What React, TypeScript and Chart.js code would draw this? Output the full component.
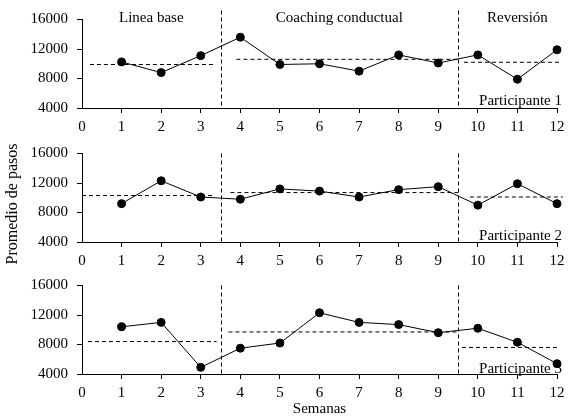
import { useEffect, useRef } from "react";
import Chart from "chart.js/auto";

const weeks = [1, 2, 3, 4, 5, 6, 7, 8, 9, 10, 11, 12];

const participant1 = [10250, 8800, 11100, 13600, 9900, 10000, 9000, 11200, 10100, 11200, 7900, 11900];
const participant2 = [9200, 12300, 10100, 9800, 11200, 10900, 10100, 11100, 11500, 9000, 11900, 9200];
const participant3 = [10400, 11000, 4900, 7500, 8200, 12300, 11000, 10700, 9600, 10200, 8300, 5400];

// phase means (baseline, coaching, reversal) and the week span each dashed line covers
const means1 = [9900, 10600, 10200];
const means2 = [10300, 10700, 10100];
const means3 = [8400, 9700, 7600];
const meanFrom1 = [0.2, 3.9, 9.65];
const meanTo1 = [3.35, 9.5, 12.1];
const meanFrom2 = [0, 3.75, 9.8];
const meanTo2 = [3.35, 9.5, 12.15];
const meanFrom3 = [0.15, 3.7, 9.6];
const meanTo3 = [3.4, 9.5, 12.0];

const phaseBreaks = [3.5, 9.5];
const phaseNames = ["Linea base", "Coaching conductual", "Reversión"];
const phaseNameAt = [1.75, 6.5, 11];

const yTicks = [4000, 8000, 12000, 16000];
const xTicks = [0, 12];

const FONT = "'Liberation Serif', 'Times New Roman', serif";

interface PanelProps {
  values: number[];
  means: number[];
  from: number[];
  to: number[];
  label: string;
  top: number;
  height: number;
  padBottom: number;
  lift: number;
  ext: number;
  phaseTitles?: boolean;
  yTitle?: boolean;
  xTitle?: boolean;
}

function Panel(props: PanelProps) {
  const canvasRef = useRef<HTMLCanvasElement>(null);
  const chartRef = useRef<Chart | null>(null);

  useEffect(() => {
    if (!canvasRef.current) return;
    if (chartRef.current) chartRef.current.destroy();

    const overlay = {
      id: "overlay",
      beforeDatasetsDraw(chart: any) {
        const { ctx, chartArea, scales } = chart;
        ctx.save();
        ctx.strokeStyle = "#000";
        ctx.lineWidth = 1;
        ctx.setLineDash([4, 3]);
        phaseBreaks.forEach((b) => {
          const x = Math.round(scales.x.getPixelForValue(b)) + 0.5;
          ctx.beginPath();
          ctx.moveTo(x, chartArea.top - props.ext);
          ctx.lineTo(x, chartArea.bottom);
          ctx.stroke();
        });
        ctx.restore();
      },
      afterDraw(chart: any) {
        const { ctx, chartArea, scales } = chart;
        ctx.save();
        ctx.fillStyle = "#000";
        ctx.font = `15px ${FONT}`;
        ctx.textBaseline = "alphabetic";
        ctx.textAlign = "right";
        ctx.fillText(props.label, chartArea.right + 5, chartArea.bottom - props.lift);
        if (props.phaseTitles) {
          ctx.textAlign = "center";
          phaseNames.forEach((n, i) => {
            ctx.fillText(n, scales.x.getPixelForValue(phaseNameAt[i]), 22);
          });
        }
        if (props.xTitle) {
          ctx.textAlign = "center";
          ctx.textBaseline = "middle";
          ctx.fillText("Semanas", (chartArea.left + chartArea.right) / 2, 143);
        }
        if (props.yTitle) {
          ctx.translate(13, 70);
          ctx.rotate(-Math.PI / 2);
          ctx.textAlign = "center";
          ctx.textBaseline = "middle";
          ctx.font = `16px ${FONT}`;
          ctx.fillText("Promedio de pasos", 0, 0);
        }
        ctx.restore();
      },
    };

    const meanSets = props.means.map((m, i) => ({
      data: [
        { x: props.from[i], y: m },
        { x: props.to[i], y: m },
      ],
      borderColor: "#000",
      borderWidth: 1,
      borderDash: [4, 3],
      pointRadius: 0,
      clip: false as const,
    }));

    chartRef.current = new Chart(canvasRef.current, {
      type: "line",
      data: {
        datasets: [
          ...meanSets,
          {
            data: weeks.map((w, i) => ({ x: w, y: props.values[i] })),
            borderColor: "#000",
            borderWidth: 1,
            backgroundColor: "#000",
            pointBackgroundColor: "#000",
            pointBorderColor: "#000",
            pointRadius: 4,
            clip: false as const,
          },
        ],
      },
      options: {
        animation: false,
        responsive: true,
        maintainAspectRatio: false,
        layout: { padding: { top: 19.5, right: 22, bottom: props.padBottom, left: 0 } },
        plugins: { legend: { display: false }, tooltip: { enabled: false } },
        scales: {
          x: {
            type: "linear",
            min: xTicks[0],
            max: xTicks[1],
            afterFit: (s: any) => {
              s.height = 28;
            },
            ticks: {
              stepSize: 1,
              autoSkip: false,
              maxRotation: 0,
              padding: 5,
              color: "#000",
              font: { family: FONT, size: 15 },
              callback: (v: any) => String(v),
            },
            grid: {
              drawOnChartArea: false,
              drawTicks: true,
              tickLength: 5,
              tickColor: (c: any) => (c.tick && c.tick.value === 0 ? "rgba(0,0,0,0)" : "#000"),
            },
            border: { display: true, color: "#000", width: 1 },
          },
          y: {
            type: "linear",
            min: yTicks[0],
            max: yTicks[yTicks.length - 1],
            afterFit: (s: any) => {
              s.width = 82;
            },
            afterBuildTicks: (s: any) => {
              s.ticks = yTicks.map((v) => ({ value: v }));
            },
            ticks: {
              padding: 9,
              color: "#000",
              font: { family: FONT, size: 15 },
              callback: (v: any) => String(v),
            },
            grid: {
              drawOnChartArea: false,
              drawTicks: true,
              tickLength: 5,
              tickColor: "#000",
            },
            border: { display: true, color: "#000", width: 1 },
          },
        },
      },
      plugins: [overlay],
    });

    return () => {
      if (chartRef.current) {
        chartRef.current.destroy();
        chartRef.current = null;
      }
    };
  }, [props]);

  return (
    <div style={{ position: "absolute", left: 0, top: props.top, width: 579, height: props.height }}>
      <canvas ref={canvasRef}></canvas>
    </div>
  );
}

export default function App() {
  return (
    <div style={{ position: "absolute", left: 0, top: 0, width: 579, height: 419, background: "#fff" }}>
      <Panel values={participant1} means={means1} from={meanFrom1} to={meanTo1} label="Participante 1"
        top={0} height={136} padBottom={0} lift={3} ext={9} phaseTitles />
      <Panel values={participant2} means={means2} from={meanFrom2} to={meanTo2} label="Participante 2"
        top={134} height={136} padBottom={0} lift={2} ext={0} yTitle />
      <Panel values={participant3} means={means3} from={meanFrom3} to={meanTo3} label="Participante 3"
        top={266} height={153} padBottom={17} lift={1} ext={0} xTitle />
    </div>
  );
}
